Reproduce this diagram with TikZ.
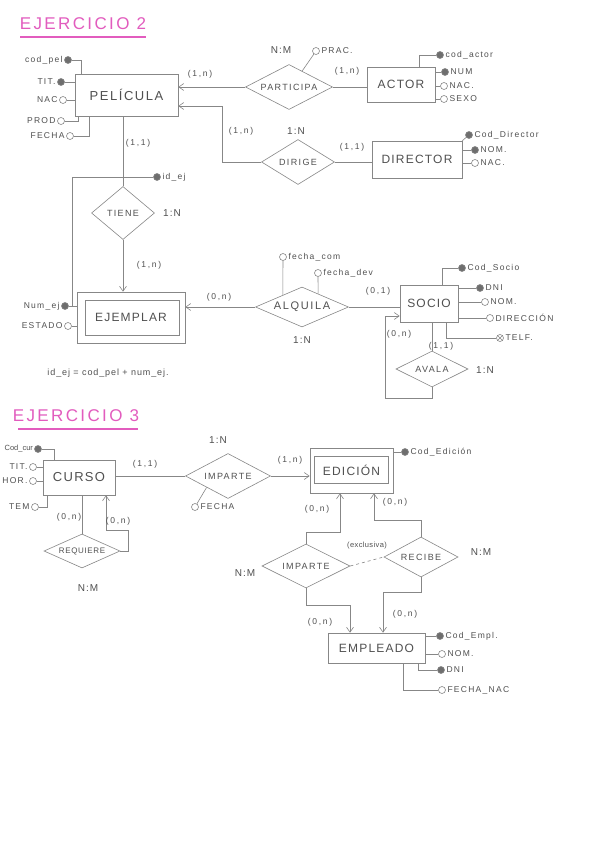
\documentclass[tikz,border=0pt]{standalone}
\usepackage{fontspec}
\setmainfont{Liberation Sans}
\usetikzlibrary{shapes.geometric,arrows.meta,calc}
\definecolor{titlepink}{RGB}{226,92,190}
\definecolor{pencil}{RGB}{135,135,135}
\definecolor{ink}{RGB}{80,80,80}
\definecolor{keyfill}{RGB}{110,110,110}
\begin{document}
\begin{tikzpicture}[x=1pt,y=-1pt,
  ln/.style={draw=pencil, line width=0.6pt},
  arr/.style={ln, -{Straight Barb[length=5pt,width=7pt]}},
  ent/.style={draw=pencil, line width=0.6pt, rectangle, inner sep=0pt, text=ink,
    font=\fontsize{12}{14}\selectfont\addfontfeature{LetterSpace=10}},
  rel/.style={draw=pencil, line width=0.6pt, diamond, inner sep=0pt, text=ink,
    font=\fontsize{9}{11}\selectfont\addfontfeature{LetterSpace=15}},
  key/.style={circle, draw=pencil, fill=keyfill, minimum size=7pt, inner sep=0pt, line width=0.6pt},
  att/.style={circle, draw=pencil, fill=white, minimum size=7pt, inner sep=0pt, line width=0.6pt},
  atxt/.style={text=ink, inner sep=1.5pt, font=\fontsize{8.5}{10}\selectfont\addfontfeature{LetterSpace=15}},
  card/.style={text=ink, inner sep=0pt, font=\fontsize{8.5}{10}\selectfont\addfontfeature{LetterSpace=20}},
  ratio/.style={text=ink, inner sep=0pt, font=\fontsize{10}{12}\selectfont\addfontfeature{LetterSpace=10}},
  titletext/.style={text=titlepink, inner sep=0pt, font=\fontsize{17}{20}\selectfont\addfontfeature{LetterSpace=14}},
  pinkline/.style={draw=titlepink, line width=1.2pt}
]
\fill[white] (0,0) rectangle (601,848);
\path[use as bounding box] (0,0) rectangle (601,848);

%================ EJERCICIO 2 ================
\node[titletext] (t2) at (83,24) {EJERCICIO 2};
\draw[pinkline] (20,37) -- (146,37);

\node[ent, minimum width=103pt, minimum height=42pt, font=\fontsize{13}{15}\selectfont\addfontfeature{LetterSpace=12}] (pel) at (126.5,95) {PELÍCULA};
\node[ent, minimum width=68pt, minimum height=35pt] (act) at (401,84.5) {ACTOR};
\node[ent, minimum width=90pt, minimum height=37pt] (dir) at (417,159.5) {DIRECTOR};
\node[rel, minimum width=87pt, minimum height=45pt, aspect=1.9] (part) at (289,87) {PARTICIPA};
\node[rel, minimum width=73pt, minimum height=45pt, aspect=1.6] (dirige) at (298,162) {DIRIGE};
\node[rel, minimum width=63pt, minimum height=53pt, aspect=1.2] (tiene) at (123,213) {TIENE};
\node[ent, minimum width=108pt, minimum height=51pt] (ej) at (131,317.5) {EJEMPLAR};
\draw[ln] ($(ej.north west)+(9,9)$) rectangle ($(ej.south east)-(6,8)$);
\node[rel, minimum width=93pt, minimum height=40pt, aspect=2.3, font=\fontsize{11}{13}\selectfont\addfontfeature{LetterSpace=15}] (alq) at (302,307) {ALQUILA};
\node[ent, minimum width=58pt, minimum height=37pt] (socio) at (429,303.5) {SOCIO};
\node[rel, minimum width=72pt, minimum height=36pt, aspect=2] (avala) at (432,369) {AVALA};

% PELICULA attributes
\node[key, label={[atxt]left:cod\_pel}] (codpel) at (68,60) {};
\draw[ln] (codpel) -| ($(pel.north west)+(7,0)$);
\node[key, label={[atxt]left:TIT.}] (tit) at (61,82) {};
\draw[ln] (tit) -- (tit -| pel.west);
\node[att, label={[atxt]left:NAC}] (nac) at (63,100) {};
\draw[ln] (nac) -- (nac -| pel.west);
\node[att, label={[atxt]left:PROD}] (prod) at (61,121) {};
\draw[ln] (prod) -| ($(pel.south west)+(4,0)$);
\node[att, label={[atxt]left:FECHA}] (fecha) at (70,136) {};
\draw[ln] (fecha) -| ($(pel.south west)+(15,0)$);

% PARTICIPA
\draw[arr] (part.west) -- (part.west -| pel.east);
\node[card] (c1) at (200,74) {(1,n)};
\draw[ln] (part.east) -- (part.east -| act.west);
\node[card] (c2) at (347,71) {(1,n)};
\node[ratio] (r1) at (281,50) {N:M};
\node[att, label={[atxt]right:PRAC.}] (prac) at (316,51) {};
\draw[ln] ($(part.north)!0.3!(part.east)$) -- (prac);

% ACTOR attributes
\node[key, label={[atxt]right:cod\_actor}] (codact) at (440,55) {};
\draw[ln] (codact) -| ($(act.north west)+(53,0)$);
\node[key, label={[atxt]right:NUM}] (num) at (445,72) {};
\draw[ln] (num) -- (num -| act.east);
\node[att, label={[atxt]right:NAC.}] (nacact) at (444,86) {};
\draw[ln] (nacact) -- (nacact -| act.east);
\node[att, label={[atxt]right:SEXO}] (sexo) at (444,99) {};
\draw[ln] (sexo) -- (sexo -| act.east);

% DIRIGE
\coordinate (pd) at (222,106);
\draw[arr] (dirige.west) -| (pd) -- (pd -| pel.east);
\node[card] (c3) at (241,131) {(1,n)};
\node[ratio] (r2) at (296,131) {1:N};
\draw[ln] (dirige.east) -- (dirige.east -| dir.west);
\node[card] (c4) at (352,147) {(1,1)};

% DIRECTOR attributes
\node[key, label={[atxt]right:Cod\_Director}] (coddir) at (469,135) {};
\draw[ln] (dir.north east) -- (coddir);
\node[key, label={[atxt]right:NOM.}] (nomdir) at (475,150) {};
\draw[ln] (nomdir) -- (nomdir -| dir.east);
\node[att, label={[atxt]right:NAC.}] (nacdir) at (475,163) {};
\draw[ln] (nacdir) -- (nacdir -| dir.east);

% TIENE
\draw[ln] (tiene.north) -- (tiene.north |- pel.south);
\node[card] (c5) at (138,143) {(1,1)};
\node[ratio] (r3) at (172,213) {1:N};
\draw[arr] (tiene.south) -- (tiene.south |- ej.north);
\node[card] (c6) at (149,265) {(1,n)};

% EJEMPLAR attributes
\node[key, label={[atxt]right:id\_ej}] (idej) at (157,177) {};
\coordinate (jn) at (72,306);
\draw[ln] (idej) -| (jn);
\node[key, label={[atxt]left:Num\_ej}] (numej) at (65,306) {};
\draw[ln] (numej) -- (numej -| ej.west);
\node[att, label={[atxt]left:ESTADO}] (estado) at (68,326) {};
\draw[ln] (estado) -- (estado -| ej.west);
\node[text=ink, font=\fontsize{9}{11}\selectfont\addfontfeature{LetterSpace=10}] (formula) at (108,373) {id\_ej = cod\_pel + num\_ej.};

% ALQUILA
\draw[arr] (alq.west) -- (alq.west -| ej.east);
\node[card] (c7) at (219,297) {(0,n)};
\draw[ln] (alq.east) -- (alq.east -| socio.west);
\node[card] (c8) at (378,291) {(0,1)};
\node[ratio] (r4) at (302,340) {1:N};
\node[att, label={[atxt]right:fecha\_com}] (fcom) at (283,257) {};
\draw[ln] (fcom) -- ($(alq.north)!0.41!(alq.west)$);
\node[att, label={[atxt]right:fecha\_dev}] (fdev) at (318,273) {};
\draw[ln] (fdev) -- ($(alq.north)!0.344!(alq.east)$);

% SOCIO attributes
\node[key, label={[atxt]right:Cod\_Socio}] (codsoc) at (462,268) {};
\draw[ln] (codsoc) -| ($(socio.north west)+(43,0)$);
\node[key, label={[atxt]right:DNI}] (dni) at (480,288) {};
\draw[ln] (dni) -- (dni -| socio.east);
\node[att, label={[atxt]right:NOM.}] (nomsoc) at (485,302) {};
\draw[ln] (nomsoc) -- (nomsoc -| socio.east);
\node[att, label={[atxt]right:DIRECCIÓN}] (direc) at (490,318) {};
\draw[ln] (direc) -- (direc -| socio.east);
\node[att, label={[atxt]right:TELF.}] (telf) at (500,338) {};
\draw[ln] (telf.north west) -- (telf.south east) (telf.north east) -- (telf.south west);
\draw[ln] (telf) -| ($(socio.south west)+(47,0)$);

% AVALA
\draw[ln] (avala.north) -- (avala.north |- socio.south);
\node[card] (c9) at (441,346) {(1,1)};
\coordinate (lp) at (385,316);
\draw[arr] (avala.south) -- ++(0,11) -| (lp) -- (lp -| socio.west);
\node[card] (c10) at (399,334) {(0,n)};
\node[ratio] (r5) at (485,370) {1:N};

%================ EJERCICIO 3 ================
\node[titletext] (t3) at (76,416) {EJERCICIO 3};
\draw[pinkline] (18,429) -- (138,429);

\node[ent, minimum width=72pt, minimum height=35pt, font=\fontsize{13}{15}\selectfont\addfontfeature{LetterSpace=10}] (curso) at (79,477.5) {CURSO};
\node[rel, minimum width=85pt, minimum height=45pt, aspect=1.9] (imp1) at (228,476) {IMPARTE};
\node[ent, minimum width=83pt, minimum height=45pt] (edic) at (351.5,470.5) {EDICIÓN};
\draw[ln] ($(edic.north west)+(5,9)$) rectangle ($(edic.south east)-(5,10)$);
\node[rel, minimum width=76pt, minimum height=34pt, aspect=2.2, font=\fontsize{8}{10}\selectfont\addfontfeature{LetterSpace=8}] (req) at (82,551) {REQUIERE};
\node[rel, minimum width=88pt, minimum height=44pt, aspect=2] (imp2) at (306,566) {IMPARTE};
\node[rel, minimum width=74pt, minimum height=40pt, aspect=1.85] (recibe) at (421,557) {RECIBE};
\node[ent, minimum width=97pt, minimum height=30pt] (emp) at (376.5,648) {EMPLEADO};

% CURSO attributes
\node[key, label={[atxt, inner sep=1pt, font=\fontsize{7.5}{9}\selectfont]left:Cod\_cur}] (codcur) at (38,449) {};
\draw[ln] (codcur) -| ($(curso.north west)+(12,0)$);
\node[att, label={[atxt]left:TIT.}] (titc) at (33,467) {};
\draw[ln] (titc) -- (titc -| curso.west);
\node[att, label={[atxt]left:HOR.}] (hor) at (33,481) {};
\draw[ln] (hor) -- (hor -| curso.west);
\node[att, label={[atxt]left:TEM}] (tem) at (35,507) {};
\draw[ln] (tem) -| ($(curso.south west)+(5,0)$);

% IMPARTE (1)
\draw[ln] (curso.east |- imp1.west) -- (imp1.west);
\node[card] (c11) at (145,464) {(1,1)};
\node[ratio] (r6) at (218,440) {1:N};
\draw[arr] (imp1.east) -- (imp1.east -| edic.west);
\node[card] (c12) at (290,460) {(1,n)};
\node[att, label={[atxt]right:FECHA}] (fechac) at (195,507) {};
\draw[ln] ($(imp1.west)!0.5!(imp1.south)$) -- (fechac);

% EDICION attribute
\node[key, label={[atxt]right:Cod\_Edición}] (codedi) at (405,452) {};
\draw[ln] (codedi) -- (codedi -| edic.east);

% REQUIERE
\draw[ln] (req.north) -- (req.north |- curso.south);
\node[card] (c13) at (69,517) {(0,n)};
\coordinate (q1) at (128,530);
\coordinate (q2) at (106,530);
\draw[arr] (req.east) -| (q1) -- (q2) -- (q2 |- curso.south);
\node[card] (c14) at (118,521) {(0,n)};
\node[ratio] (r7) at (88,588) {N:M};

% IMPARTE (2) / RECIBE
\coordinate (e1) at (340,532);
\draw[arr] (imp2.north) |- (e1) -- (e1 |- edic.south);
\node[card] (c15) at (317,509) {(0,n)};
\coordinate (e2) at (374,520);
\draw[arr] (recibe.north) |- (e2) -- (e2 |- edic.south);
\node[card] (c16) at (395,502) {(0,n)};
\draw[ln, dashed] (imp2.east) -- (recibe.west);
\node[card, font=\fontsize{7.5}{9}\selectfont\addfontfeature{LetterSpace=5}] (excl) at (367,546) {(exclusiva)};
\node[ratio] (r8) at (245,573) {N:M};
\node[ratio] (r9) at (481,552) {N:M};
\coordinate (e3) at (350,605);
\draw[arr] (imp2.south) |- (e3) -- (e3 |- emp.north);
\node[card] (c17) at (320,622) {(0,n)};
\coordinate (e4) at (383,592);
\draw[arr] (recibe.south) |- (e4) -- (e4 |- emp.north);
\node[card] (c18) at (405,614) {(0,n)};

% EMPLEADO attributes
\node[key, label={[atxt]right:Cod\_Empl.}] (codemp) at (440,636) {};
\draw[ln] (codemp) -- (codemp -| emp.east);
\node[att, label={[atxt]right:NOM.}] (nomemp) at (442,654) {};
\draw[ln] (nomemp) -- (nomemp -| emp.east);
\node[key, label={[atxt]right:DNI}] (dniemp) at (441,670) {};
\draw[ln] (dniemp) -| ($(emp.south east)+(-7,0)$);
\node[att, label={[atxt]right:FECHA\_NAC}] (fnac) at (442,690) {};
\draw[ln] (fnac) -| ($(emp.south east)+(-22,0)$);
\end{tikzpicture}
\end{document}
